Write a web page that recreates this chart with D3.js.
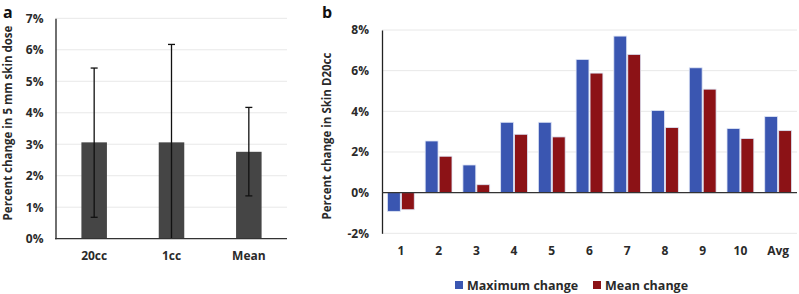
<!DOCTYPE html>
<html><head><meta charset="utf-8">
<script src="https://cdn.jsdelivr.net/npm/d3@7"></script>
<style>
body{margin:0;background:#fff}
svg{display:block}
svg text{font-family:"Open Sans",Lato,sans-serif;font-weight:700}
</style></head><body>
<svg id="c" width="799" height="294"></svg>
<script>
// Panel a data
const catsA = ["20cc","1cc","Mean"];
const valsA = [3.06, 3.06, 2.76];
const errLowA = [0.68, 0.0, 1.36];
const errHighA = [5.42, 6.17, 4.17];
const ticksA = [0,1,2,3,4,5,6,7];

// Panel b data
const catsB = ["1","2","3","4","5","6","7","8","9","10","Avg"];
const maxChange = [-0.92, 2.54, 1.36, 3.46, 3.46, 6.55, 7.70, 4.04, 6.14, 3.15, 3.74];
const meanChange = [-0.84, 1.79, 0.39, 2.87, 2.74, 5.88, 6.80, 3.20, 5.09, 2.66, 3.05];
const seriesNames = ["Maximum change","Mean change"];
const ticksB = [-2,0,2,4,6,8];

const svg = d3.select("#c");
const gridCol = "#e8e8e8";
const txtCol = "#2a2a2a";

// ---------- Panel a ----------
const xA = d3.scaleBand().domain(catsA).range([55.5, 287.5]).paddingInner(0.67).paddingOuter(0.335);
const yA = d3.scaleLinear().domain([0,7]).range([238.7, 18.3]);
const gA = svg.append("g");
gA.selectAll("line.grid").data(ticksA.filter(t=>t>0)).join("line")
  .attr("x1",55.5).attr("x2",287).attr("y1",d=>yA(d)).attr("y2",d=>yA(d))
  .attr("stroke",gridCol).attr("stroke-width",1);
gA.selectAll("rect").data(catsA).join("rect")
  .attr("x",d=>xA(d)).attr("width",xA.bandwidth())
  .attr("y",(d,i)=>yA(valsA[i])).attr("height",(d,i)=>yA(0)-yA(valsA[i]))
  .attr("fill","#454545");
// error bars
const errRows = catsA.map((c,i)=>({c, lo:errLowA[i], hi:errHighA[i]}));
const eb = gA.selectAll("g.eb").data(errRows).join("g").attr("class","eb")
  .attr("transform",d=>`translate(${xA(d.c)+xA.bandwidth()/2},0)`);
eb.append("line").attr("y1",d=>yA(d.lo)).attr("y2",d=>yA(d.hi))
  .attr("stroke","#111").attr("stroke-width",1.3);
eb.append("line").attr("x1",-3.5).attr("x2",3.5).attr("y1",d=>yA(d.hi)).attr("y2",d=>yA(d.hi))
  .attr("stroke","#111").attr("stroke-width",1.3);
eb.filter(d=>d.lo>0).append("line").attr("x1",-3.5).attr("x2",3.5)
  .attr("y1",d=>yA(d.lo)).attr("y2",d=>yA(d.lo))
  .attr("stroke","#111").attr("stroke-width",1.3);
// axes
const axA = gA.append("g").attr("transform","translate(55.5,0)")
  .call(d3.axisLeft(yA).tickValues(ticksA).tickFormat(d=>d+"%").tickSize(0).tickPadding(12));
axA.attr("font-family",null).attr("font-size",null);
axA.select(".domain").attr("stroke","#222").attr("stroke-width",1.3);
axA.selectAll("text").attr("font-size",12).attr("fill",txtCol);
gA.append("line").attr("x1",55).attr("x2",287).attr("y1",yA(0)).attr("y2",yA(0)).attr("stroke","#333").attr("stroke-width",1.3);
const axAx = gA.append("g").attr("transform",`translate(0,${yA(0)})`)
  .call(d3.axisBottom(xA).tickSize(0).tickPadding(13));
axAx.attr("font-family",null).attr("font-size",null);
axAx.select(".domain").remove();
axAx.selectAll("text").attr("font-size",12).attr("fill",txtCol);
gA.append("text").attr("transform","translate(12,123) rotate(-90)").attr("text-anchor","middle")
  .attr("font-size",11.5).attr("fill",txtCol).text("Percent change in 5 mm skin dose");
gA.append("text").attr("x",3).attr("y",17.5).attr("font-size",16).attr("fill","#111").text("a");

// ---------- Panel b ----------
const xB = d3.scaleBand().domain(catsB).range([382, 797]).paddingInner(0.29).paddingOuter(0.145);
const xSub = d3.scaleBand().domain(seriesNames).range([0, xB.bandwidth()]).paddingInner(0.08);
const yB = d3.scaleLinear().domain([-2,8]).range([233.3, 30]);
const colors = {"Maximum change":"#3a56b1","Mean change":"#8c1216"};
const gB = svg.append("g");
gB.selectAll("line.grid").data(ticksB.filter(t=>t!==0)).join("line")
  .attr("x1",382).attr("x2",797).attr("y1",d=>yB(d)).attr("y2",d=>yB(d))
  .attr("stroke",gridCol).attr("stroke-width",1);
const rows = catsB.map((c,i)=>({c, v:[maxChange[i], meanChange[i]]}));
const grp = gB.selectAll("g.cat").data(rows).join("g").attr("transform",d=>`translate(${xB(d.c)},0)`);
grp.selectAll("rect").data(d=>seriesNames.map((s,j)=>({s, v:d.v[j]}))).join("rect")
  .attr("x",d=>xSub(d.s)).attr("width",xSub.bandwidth())
  .attr("y",d=>yB(Math.max(0,d.v))).attr("height",d=>Math.abs(yB(d.v)-yB(0)))
  .attr("fill",d=>colors[d.s]).attr("stroke","#dde4f5").attr("stroke-width",0.8);
const axB = gB.append("g").attr("transform","translate(382,0)")
  .call(d3.axisLeft(yB).tickValues(ticksB).tickFormat(d=>d+"%").tickSize(0).tickPadding(13));
axB.attr("font-family",null).attr("font-size",null);
axB.select(".domain").attr("stroke","#222").attr("stroke-width",1.3);
axB.selectAll("text").attr("font-size",12).attr("fill",txtCol);
gB.append("line").attr("x1",382).attr("x2",797).attr("y1",yB(0)).attr("y2",yB(0)).attr("stroke","#333").attr("stroke-width",1.3);
const axBx = gB.append("g").attr("transform",`translate(0,${yB(-2)})`)
  .call(d3.axisBottom(xB).tickSize(0).tickPadding(13));
axBx.attr("font-family",null).attr("font-size",null);
axBx.select(".domain").remove();
axBx.selectAll("text").attr("font-size",12).attr("fill",txtCol);
gB.append("text").attr("transform","translate(331,136) rotate(-90)").attr("text-anchor","middle")
  .attr("font-size",11.5).attr("fill",txtCol).text("Percent change in Skin D20cc");
gB.append("text").attr("x",322).attr("y",17.5).attr("font-size",16).attr("fill","#111").text("b");

// legend
const legX = [455, 593];
const leg = gB.selectAll("g.leg").data(seriesNames).join("g").attr("transform",(d,i)=>`translate(${legX[i]},281)`);
leg.append("rect").attr("width",8).attr("height",8).attr("fill",d=>colors[d]);
leg.append("text").attr("x",12).attr("y",9).attr("font-size",12.5).attr("fill",txtCol).text(d=>d);
</script>
</body></html>
